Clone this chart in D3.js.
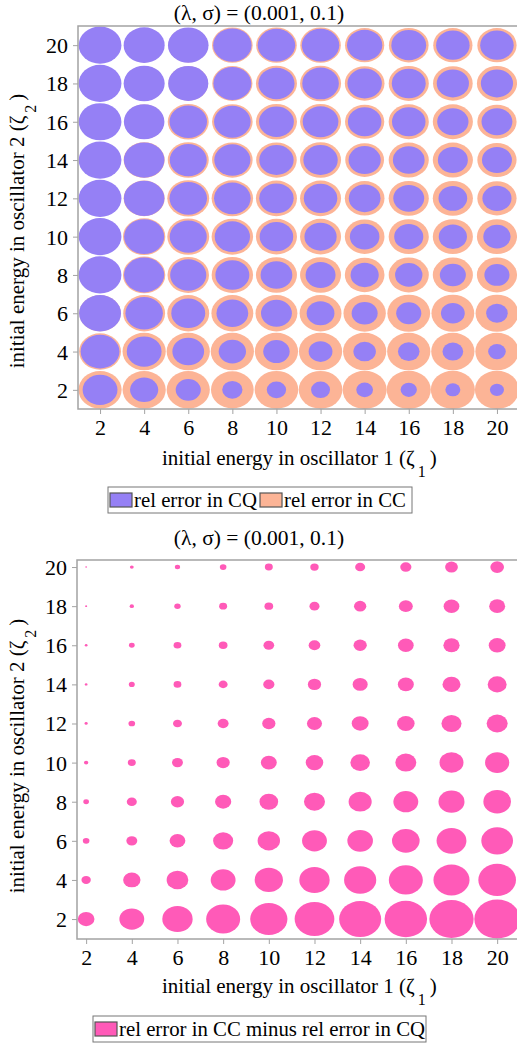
<!DOCTYPE html>
<html><head><meta charset="utf-8">
<script src="https://cdn.jsdelivr.net/npm/d3@7"></script>
<style>
body{margin:0;background:#fff;}
text{font-family:"Liberation Serif","Times New Roman",serif;fill:#000;}
</style></head>
<body>
<svg id="c" width="517" height="1046"></svg>
<script>
// ---------- data ----------
const zeta1 = [2,4,6,8,10,12,14,16,18,20];
const zeta2 = [20,18,16,14,12,10,8,6,4,2]; // rows, top to bottom
const tickVals = [2,4,6,8,10,12,14,16,18,20];
const titleText = "(λ, σ) = (0.001, 0.1)";

// relative error in CQ (bubble size), rows = zeta2 (20 -> 2), cols = zeta1 (2 -> 20)
const relErrCQ = [
 [0.97,0.93,0.92,0.87,0.85,0.85,0.80,0.79,0.76,0.76],
 [0.97,0.93,0.91,0.86,0.82,0.83,0.78,0.77,0.73,0.73],
 [0.97,0.92,0.85,0.83,0.79,0.81,0.76,0.76,0.71,0.70],
 [0.97,0.92,0.84,0.82,0.78,0.78,0.73,0.72,0.68,0.68],
 [0.97,0.92,0.85,0.83,0.78,0.76,0.72,0.70,0.65,0.66],
 [0.97,0.91,0.84,0.80,0.76,0.73,0.67,0.66,0.64,0.62],
 [0.97,0.91,0.82,0.77,0.72,0.68,0.64,0.62,0.59,0.57],
 [0.95,0.85,0.77,0.72,0.70,0.63,0.59,0.57,0.54,0.49],
 [0.88,0.79,0.72,0.62,0.60,0.54,0.51,0.49,0.47,0.40],
 [0.79,0.64,0.57,0.46,0.44,0.43,0.38,0.37,0.34,0.32]
];
// relative error in CC (bubble size)
const relErrCC = [
 [0.90,0.90,0.90,0.92,0.92,0.92,0.89,0.90,0.89,0.89],
 [0.90,0.90,0.90,0.91,0.93,0.93,0.90,0.91,0.90,0.91],
 [0.90,0.90,0.93,0.92,0.93,0.93,0.89,0.91,0.91,0.89],
 [0.90,0.93,0.93,0.92,0.92,0.93,0.88,0.91,0.91,0.89],
 [0.91,0.93,0.95,0.94,0.93,0.93,0.90,0.91,0.91,0.89],
 [0.93,0.96,0.95,0.94,0.93,0.93,0.90,0.91,0.91,0.91],
 [0.94,0.96,0.94,0.94,0.93,0.93,0.90,0.91,0.91,0.91],
 [0.94,0.95,0.95,0.95,0.95,0.95,0.96,0.97,0.97,0.97],
 [0.95,0.98,0.98,0.98,0.98,0.98,0.98,0.98,0.98,0.98],
 [0.98,0.98,0.98,0.97,0.99,0.99,1.00,1.00,1.00,1.00]
];
// rel error in CC minus rel error in CQ (bubble size)
const relErrDiff = [
 [0.08,0.17,0.23,0.29,0.35,0.37,0.44,0.49,0.56,0.60],
 [0.09,0.19,0.28,0.35,0.38,0.44,0.54,0.61,0.69,0.70],
 [0.12,0.25,0.34,0.38,0.47,0.51,0.58,0.69,0.71,0.74],
 [0.12,0.26,0.34,0.39,0.49,0.58,0.66,0.70,0.79,0.83],
 [0.14,0.29,0.39,0.48,0.58,0.66,0.74,0.77,0.88,0.92],
 [0.19,0.35,0.48,0.58,0.70,0.77,0.86,0.92,1.05,1.06],
 [0.25,0.44,0.58,0.71,0.82,0.92,1.01,1.09,1.14,1.21],
 [0.29,0.48,0.69,0.88,0.98,1.09,1.12,1.21,1.31,1.39],
 [0.41,0.76,0.95,1.09,1.24,1.33,1.41,1.49,1.58,1.65],
 [0.73,1.09,1.33,1.49,1.63,1.74,1.84,1.86,1.94,2.00]
];
const legendTop = ["rel error in CQ","rel error in CC"];
const legendBottom = ["rel error in CC minus rel error in CQ"];

// ---------- styles ----------
const colCQ = "#9580f5", colCC = "#fcb496", colDiff = "#ff5ab8";
const axisCol = "#a3a3a3";
const svg = d3.select("#c");

function flat(m){
  const out=[];
  zeta2.forEach((yv,i)=>zeta1.forEach((xv,j)=>out.push({x:xv,y:yv,v:m[i][j]})));
  return out;
}

function panel(o){
  const g = svg.append("g");
  const x = d3.scaleLinear().domain(o.xd).range(o.xr);
  const y = d3.scaleLinear().domain(o.yd).range(o.yr);
  o.layers.forEach(L=>{
    const s = d3.scaleLinear().domain([0,L.max]).range([0,1]);
    g.append("g").selectAll("ellipse").data(flat(L.data)).join("ellipse")
      .attr("cx",d=>x(d.x)).attr("cy",d=>y(d.y))
      .attr("rx",d=>x(d.x+s(d.v))-x(d.x))
      .attr("ry",d=>y(d.y)-y(d.y+s(d.v)))
      .attr("fill",L.color);
  });
  g.append("rect").attr("x",o.xr[0]).attr("y",o.yr[1])
    .attr("width",o.xr[1]-o.xr[0]).attr("height",o.yr[0]-o.yr[1])
    .attr("fill","none").attr("stroke",axisCol).attr("stroke-width",1.5);
  const ax = g.append("g").attr("transform",`translate(0,${o.yr[0]})`)
    .call(d3.axisBottom(x).tickValues(tickVals).tickSize(5).tickPadding(5));
  const ay = g.append("g").attr("transform",`translate(${o.xr[0]},0)`)
    .call(d3.axisLeft(y).tickValues(tickVals).tickSize(5).tickPadding(5));
  [ax,ay].forEach(a=>{
    a.select(".domain").remove();
    a.selectAll("line").attr("stroke",axisCol).attr("stroke-width",1);
    a.selectAll("text").style("font-size","22px").attr("fill","#000");
  });
  ay.selectAll("text").attr("dy","0.34em");
  g.append("text").attr("x",o.titleX).attr("y",o.titleY).attr("text-anchor","middle")
    .style("font-size","21.5px").text(titleText);
  const xl = g.append("text").attr("x",162).attr("y",o.xlabY).style("font-size","21px");
  xl.append("tspan").text("initial energy in oscillator 1 (ζ");
  xl.append("tspan").attr("dy",12).attr("dx",3).style("font-size","16px").text("1");
  xl.append("tspan").attr("dy",-12).attr("dx",4).text(")");
  const yl = g.append("text").attr("transform",`translate(${o.ylabX},${o.ylabY}) rotate(-90)`)
    .attr("text-anchor","middle").style("font-size","21px");
  yl.append("tspan").text("initial energy in oscillator 2 (ζ");
  yl.append("tspan").attr("dy",12).attr("dx",3).style("font-size","16px").text("2");
  yl.append("tspan").attr("dy",-12).attr("dx",4).text(")");
  const lg = g.append("g");
  lg.append("rect").attr("x",o.leg.x).attr("y",o.leg.y).attr("width",o.leg.w).attr("height",26)
    .attr("fill","#fff").attr("stroke","#777").attr("stroke-width",1);
  let cx = o.leg.x+2;
  o.leg.items.forEach((it,i)=>{
    lg.append("rect").attr("x",cx).attr("y",o.leg.y+6).attr("width",22).attr("height",14)
      .attr("fill",it.color).attr("stroke","#555").attr("stroke-width",1.2);
    const t = lg.append("text").attr("x",cx+24).attr("y",o.leg.y+20).style("font-size",o.leg.fs+"px").text(it.label);
    cx += 24 + t.node().getComputedTextLength() + 3;
  });
}

panel({
  xd:[1,21], xr:[78,519], yd:[1,21], yr:[409,26],
  layers:[{data:relErrCC,color:colCC,max:1},{data:relErrCQ,color:colCQ,max:1}],
  titleX:259, titleY:20, xlabY:465, ylabX:24, ylabY:231,
  leg:{x:108,y:487,w:304,fs:20.8,items:[{color:colCQ,label:legendTop[0]},{color:colCC,label:legendTop[1]}]}
});
panel({
  xd:[1.6,21], xr:[77,520], yd:[0.98,20.36], yr:[939,560],
  layers:[{data:relErrDiff,color:colDiff,max:2}],
  titleX:259, titleY:545, xlabY:993, ylabX:24, ylabY:756,
  leg:{x:93,y:1016,w:333,fs:20.8,items:[{color:colDiff,label:legendBottom[0]}]}
});
</script>
</body></html>
